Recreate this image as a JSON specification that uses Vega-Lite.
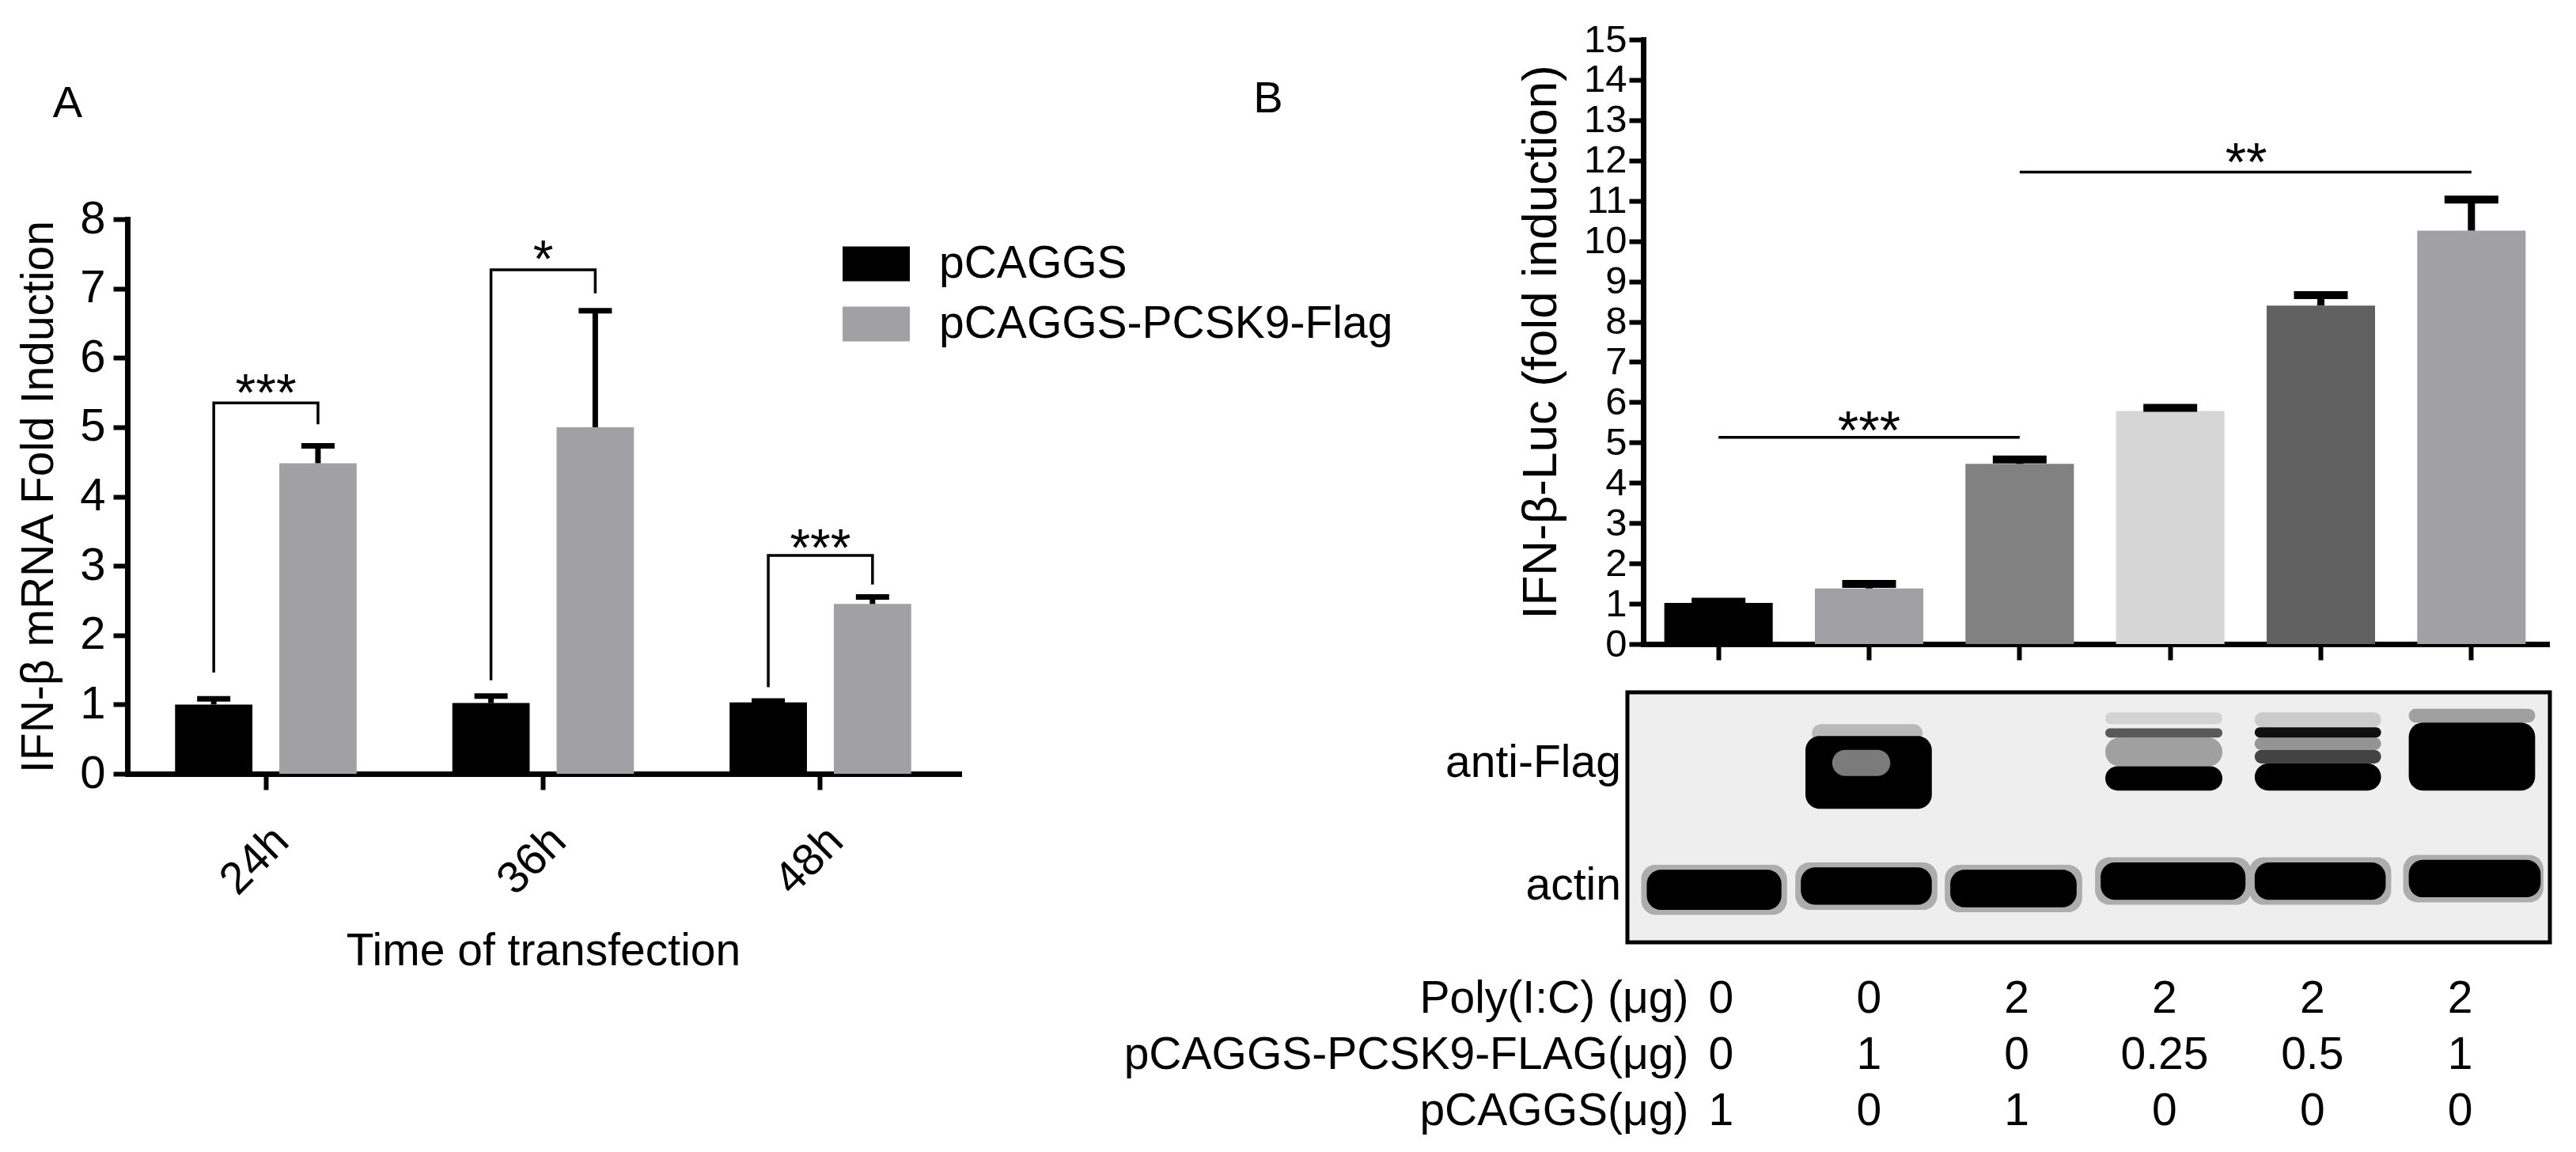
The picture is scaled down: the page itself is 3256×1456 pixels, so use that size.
{
  "$schema": "https://vega.github.io/schema/vega-lite/v6.json",
  "width": 3256,
  "height": 1456,
  "autosize": {"type": "none"},
  "padding": 0,
  "background": "white",
  "config": {
    "font": "Liberation Sans",
    "view": {"stroke": null},
    "axis": {"grid": false, "domainColor": "black", "tickColor": "black", "labelColor": "black", "titleColor": "black", "titleFontWeight": "normal", "labelFont": "Liberation Sans", "titleFont": "Liberation Sans", "domainCap": "square", "labelOverlap": false},
    "text": {"font": "Liberation Sans", "color": "black"},
    "legend": {"labelFont": "Liberation Sans", "labelColor": "black"}
  },
  "datasets": {
    "expA": [
      {"time": "24h", "group": "pCAGGS", "mean": 1.0, "upper": 1.08},
      {"time": "24h", "group": "pCAGGS-PCSK9-Flag", "mean": 4.48, "upper": 4.73},
      {"time": "36h", "group": "pCAGGS", "mean": 1.02, "upper": 1.12},
      {"time": "36h", "group": "pCAGGS-PCSK9-Flag", "mean": 5.0, "upper": 6.68},
      {"time": "48h", "group": "pCAGGS", "mean": 1.03, "upper": 1.05},
      {"time": "48h", "group": "pCAGGS-PCSK9-Flag", "mean": 2.45, "upper": 2.55}
    ],
    "bracketA": [
      {"time": "24h", "group": "pCAGGS", "y": 1.48, "id": "b24", "ord": 1},
      {"time": "24h", "group": "pCAGGS", "y": 5.35, "id": "b24", "ord": 2},
      {"time": "24h", "group": "pCAGGS-PCSK9-Flag", "y": 5.35, "id": "b24", "ord": 3},
      {"time": "24h", "group": "pCAGGS-PCSK9-Flag", "y": 5.06, "id": "b24", "ord": 4},
      {"time": "36h", "group": "pCAGGS", "y": 1.37, "id": "b36", "ord": 1},
      {"time": "36h", "group": "pCAGGS", "y": 7.27, "id": "b36", "ord": 2},
      {"time": "36h", "group": "pCAGGS-PCSK9-Flag", "y": 7.27, "id": "b36", "ord": 3},
      {"time": "36h", "group": "pCAGGS-PCSK9-Flag", "y": 6.95, "id": "b36", "ord": 4},
      {"time": "48h", "group": "pCAGGS", "y": 1.27, "id": "b48", "ord": 1},
      {"time": "48h", "group": "pCAGGS", "y": 3.15, "id": "b48", "ord": 2},
      {"time": "48h", "group": "pCAGGS-PCSK9-Flag", "y": 3.15, "id": "b48", "ord": 3},
      {"time": "48h", "group": "pCAGGS-PCSK9-Flag", "y": 2.75, "id": "b48", "ord": 4}
    ],
    "starsA": [
      {"time": "24h", "y": 5.24, "label": "***"},
      {"time": "36h", "y": 7.17, "label": "*"},
      {"time": "48h", "y": 3.0, "label": "***"}
    ],
    "expB": [
      {"cond": "c1", "mean": 1.02, "upper": 1.05},
      {"cond": "c2", "mean": 1.38, "upper": 1.49},
      {"cond": "c3", "mean": 4.47, "upper": 4.58},
      {"cond": "c4", "mean": 5.78, "upper": 5.86},
      {"cond": "c5", "mean": 8.4, "upper": 8.66},
      {"cond": "c6", "mean": 10.26, "upper": 11.03}
    ],
    "sigB": [
      {"cond": "c1", "y": 5.13, "id": "s1"},
      {"cond": "c3", "y": 5.13, "id": "s1"},
      {"cond": "c3", "y": 11.71, "id": "s2"},
      {"cond": "c6", "y": 11.71, "id": "s2"}
    ],
    "blot": [
      {"lane": 1, "x1": 0.015, "x2": 0.173, "y1": 0.11, "y2": 0.31, "int": 0.25},
      {"lane": 2, "x1": 0.182, "x2": 0.336, "y1": 0.13, "y2": 0.32, "int": 0.25},
      {"lane": 3, "x1": 0.344, "x2": 0.493, "y1": 0.12, "y2": 0.31, "int": 0.25},
      {"lane": 4, "x1": 0.507, "x2": 0.676, "y1": 0.15, "y2": 0.34, "int": 0.25},
      {"lane": 5, "x1": 0.674, "x2": 0.828, "y1": 0.15, "y2": 0.34, "int": 0.25},
      {"lane": 6, "x1": 0.841, "x2": 0.993, "y1": 0.16, "y2": 0.35, "int": 0.25},
      {"lane": 1, "x1": 0.021, "x2": 0.167, "y1": 0.13, "y2": 0.29, "int": 1},
      {"lane": 2, "x1": 0.188, "x2": 0.33, "y1": 0.15, "y2": 0.3, "int": 1},
      {"lane": 3, "x1": 0.35, "x2": 0.487, "y1": 0.14, "y2": 0.29, "int": 1},
      {"lane": 4, "x1": 0.513, "x2": 0.67, "y1": 0.17, "y2": 0.32, "int": 1},
      {"lane": 5, "x1": 0.68, "x2": 0.822, "y1": 0.17, "y2": 0.32, "int": 1},
      {"lane": 6, "x1": 0.847, "x2": 0.99, "y1": 0.18, "y2": 0.33, "int": 1},
      {"lane": 2, "x1": 0.2, "x2": 0.32, "y1": 0.8, "y2": 0.873, "int": 0.2},
      {"lane": 2, "x1": 0.193, "x2": 0.33, "y1": 0.534, "y2": 0.825, "int": 1},
      {"lane": 2, "x1": 0.222, "x2": 0.285, "y1": 0.665, "y2": 0.77, "int": 0.45},
      {"lane": 4, "x1": 0.518, "x2": 0.645, "y1": 0.873, "y2": 0.92, "int": 0.1},
      {"lane": 4, "x1": 0.518, "x2": 0.645, "y1": 0.704, "y2": 0.819, "int": 0.3},
      {"lane": 4, "x1": 0.518, "x2": 0.645, "y1": 0.819, "y2": 0.856, "int": 0.6},
      {"lane": 4, "x1": 0.518, "x2": 0.645, "y1": 0.607, "y2": 0.704, "int": 1},
      {"lane": 5, "x1": 0.68, "x2": 0.817, "y1": 0.86, "y2": 0.92, "int": 0.13},
      {"lane": 5, "x1": 0.68, "x2": 0.817, "y1": 0.77, "y2": 0.819, "int": 0.35},
      {"lane": 5, "x1": 0.68, "x2": 0.817, "y1": 0.819, "y2": 0.86, "int": 0.95},
      {"lane": 5, "x1": 0.68, "x2": 0.817, "y1": 0.715, "y2": 0.77, "int": 0.7},
      {"lane": 5, "x1": 0.68, "x2": 0.817, "y1": 0.607, "y2": 0.715, "int": 1},
      {"lane": 6, "x1": 0.847, "x2": 0.984, "y1": 0.879, "y2": 0.934, "int": 0.3},
      {"lane": 6, "x1": 0.847, "x2": 0.984, "y1": 0.607, "y2": 0.879, "int": 1}
    ],
    "blotLabels": [
      {"label": "anti-Flag", "x": -0.007, "y": 0.715},
      {"label": "actin", "x": -0.007, "y": 0.225}
    ],
    "table": [
      {"row": "Poly(I:C) (μg)", "cond": "c1", "val": "0"},
      {"row": "Poly(I:C) (μg)", "cond": "c2", "val": "0"},
      {"row": "Poly(I:C) (μg)", "cond": "c3", "val": "2"},
      {"row": "Poly(I:C) (μg)", "cond": "c4", "val": "2"},
      {"row": "Poly(I:C) (μg)", "cond": "c5", "val": "2"},
      {"row": "Poly(I:C) (μg)", "cond": "c6", "val": "2"},
      {"row": "pCAGGS-PCSK9-FLAG(μg)", "cond": "c1", "val": "0"},
      {"row": "pCAGGS-PCSK9-FLAG(μg)", "cond": "c2", "val": "1"},
      {"row": "pCAGGS-PCSK9-FLAG(μg)", "cond": "c3", "val": "0"},
      {"row": "pCAGGS-PCSK9-FLAG(μg)", "cond": "c4", "val": "0.25"},
      {"row": "pCAGGS-PCSK9-FLAG(μg)", "cond": "c5", "val": "0.5"},
      {"row": "pCAGGS-PCSK9-FLAG(μg)", "cond": "c6", "val": "1"},
      {"row": "pCAGGS(μg)", "cond": "c1", "val": "1"},
      {"row": "pCAGGS(μg)", "cond": "c2", "val": "0"},
      {"row": "pCAGGS(μg)", "cond": "c3", "val": "1"},
      {"row": "pCAGGS(μg)", "cond": "c4", "val": "0"},
      {"row": "pCAGGS(μg)", "cond": "c5", "val": "0"},
      {"row": "pCAGGS(μg)", "cond": "c6", "val": "0"}
    ],
    "panels": [
      {"label": "A", "x": -0.072, "y": 9.67},
      {"label": "B", "x": 1.372, "y": 9.74}
    ]
  },
  "layer": [
    {
      "data": {"name": "expA"},
      "layer": [
        {
          "mark": {"type": "bar"},
          "encoding": {
            "x": {"field": "time", "type": "nominal", "scale": {"type": "band", "domain": ["24h", "36h", "48h"], "range": [161, 1212], "paddingInner": 0.345, "paddingOuter": 0.172},
              "axis": {"orient": "bottom", "offset": -478, "labelAngle": -45, "labelFontSize": 57, "labelPadding": 36, "tickSize": 20, "tickWidth": 6, "domainWidth": 7, "title": "Time of transfection", "titleFontSize": 57, "titlePadding": 34}},
            "xOffset": {"field": "group", "type": "nominal", "scale": {"domain": ["pCAGGS", "pCAGGS-PCSK9-Flag"], "paddingInner": 0.258, "paddingOuter": 0}},
            "y": {"field": "mean", "type": "quantitative", "scale": {"domain": [0, 8], "range": [978, 277], "nice": false, "zero": true},
              "axis": {"orient": "left", "offset": -161, "values": [0, 1, 2, 3, 4, 5, 6, 7, 8], "format": "d", "labelFontSize": 58, "labelPadding": 10, "tickSize": 18, "tickWidth": 6, "domainWidth": 7, "title": "IFN-β mRNA Fold Induction", "titleFontSize": 57, "titlePadding": 22}},
            "color": {"field": "group", "type": "nominal", "scale": {"domain": ["pCAGGS", "pCAGGS-PCSK9-Flag"], "range": ["#000000", "#a1a1a5"]},
              "legend": {"orient": "none", "legendX": 1079, "legendY": 305, "title": null, "symbolType": "M-1.5,-0.78H1.5V0.78H-1.5Z", "symbolSize": 3211, "labelFontSize": 57, "labelOffset": 51, "rowPadding": 18, "symbolStrokeWidth": 0, "labelLimit": 0, "padding": 0, "symbolOpacity": 1}}
          }
        },
        {
          "mark": {"type": "rule", "strokeWidth": 7, "color": "black"},
          "encoding": {
            "x": {"field": "time", "type": "nominal"},
            "xOffset": {"field": "group", "type": "nominal"},
            "y": {"field": "mean", "type": "quantitative"},
            "y2": {"field": "upper"}
          }
        },
        {
          "mark": {"type": "tick", "size": 42, "thickness": 7, "color": "black", "opacity": 1},
          "encoding": {
            "x": {"field": "time", "type": "nominal"},
            "xOffset": {"field": "group", "type": "nominal"},
            "y": {"field": "upper", "type": "quantitative"}
          }
        },
        {
          "data": {"name": "bracketA"},
          "mark": {"type": "line", "strokeWidth": 3.5, "color": "black", "strokeCap": "square"},
          "encoding": {
            "x": {"field": "time", "type": "nominal"},
            "xOffset": {"field": "group", "type": "nominal"},
            "y": {"field": "y", "type": "quantitative"},
            "detail": {"field": "id"},
            "order": {"field": "ord"}
          }
        },
        {
          "data": {"name": "starsA"},
          "mark": {"type": "text", "fontSize": 66, "baseline": "alphabetic", "align": "center"},
          "encoding": {
            "x": {"field": "time", "type": "nominal"},
            "y": {"field": "y", "type": "quantitative"},
            "text": {"field": "label"}
          }
        }
      ]
    },
    {
      "data": {"name": "expB"},
      "layer": [
        {
          "mark": {"type": "bar"},
          "encoding": {
            "x": {"field": "cond", "type": "nominal", "scale": {"type": "band", "domain": ["c1", "c2", "c3", "c4", "c5", "c6"], "range": [2077, 3219], "paddingInner": 0.28, "paddingOuter": 0.14},
              "axis": {"orient": "bottom", "offset": -642, "labels": false, "tickSize": 20, "tickWidth": 6, "domainWidth": 7, "title": null}},
            "y": {"field": "mean", "type": "quantitative", "scale": {"domain": [0, 15], "range": [814, 50], "nice": false, "zero": true},
              "axis": {"orient": "left", "offset": -2077, "values": [0, 1, 2, 3, 4, 5, 6, 7, 8, 9, 10, 11, 12, 13, 14, 15], "format": "d", "labelFontSize": 49, "labelPadding": 3, "tickSize": 18, "tickWidth": 6, "domainWidth": 7, "title": "IFN-β-Luc (fold induction)", "titleFontSize": 62, "titlePadding": 22}},
            "color": {"field": "cond", "type": "nominal", "scale": {"domain": ["c1", "c2", "c3", "c4", "c5", "c6"], "range": ["#000000", "#a1a1a5", "#818181", "#d6d6d6", "#616161", "#a1a1a5"]}, "legend": null}
          }
        },
        {
          "mark": {"type": "rule", "strokeWidth": 9, "color": "black"},
          "encoding": {
            "x": {"field": "cond", "type": "nominal"},
            "y": {"field": "mean", "type": "quantitative"},
            "y2": {"field": "upper"}
          }
        },
        {
          "mark": {"type": "tick", "size": 68, "thickness": 10, "color": "black", "opacity": 1},
          "encoding": {
            "x": {"field": "cond", "type": "nominal"},
            "y": {"field": "upper", "type": "quantitative"}
          }
        },
        {
          "data": {"name": "sigB"},
          "mark": {"type": "line", "strokeWidth": 3.5, "color": "black"},
          "encoding": {
            "x": {"field": "cond", "type": "nominal"},
            "y": {"field": "y", "type": "quantitative"},
            "detail": {"field": "id"}
          }
        },
        {
          "data": {"values": [{"cond": "c2", "y": 4.85, "label": "***"}]},
          "mark": {"type": "text", "fontSize": 68, "baseline": "alphabetic", "align": "center"},
          "encoding": {
            "x": {"field": "cond", "type": "nominal"},
            "y": {"field": "y", "type": "quantitative"},
            "text": {"field": "label"}
          }
        },
        {
          "data": {"values": [{"cond": "c4", "y": 11.5, "label": "**"}]},
          "mark": {"type": "text", "fontSize": 68, "baseline": "alphabetic", "align": "center"},
          "encoding": {
            "x": {"field": "cond", "type": "nominal", "bandPosition": 1.2},
            "y": {"field": "y", "type": "quantitative"},
            "text": {"field": "label"}
          }
        }
      ]
    },
    {
      "layer": [
        {
          "data": {"values": [{"x1": 0, "x2": 1, "y1": 0, "y2": 1}]},
          "mark": {"type": "rect", "fill": "#eeeeee", "stroke": "black", "strokeWidth": 5},
          "encoding": {
            "x": {"field": "x1", "type": "quantitative", "scale": {"domain": [0, 1], "range": [2057, 3223], "nice": false, "zero": false}, "axis": null},
            "x2": {"field": "x2"},
            "y": {"field": "y1", "type": "quantitative", "scale": {"domain": [0, 1], "range": [1191, 875], "nice": false, "zero": false}, "axis": null},
            "y2": {"field": "y2"}
          }
        },
        {
          "data": {"name": "blot"},
          "mark": {"type": "rect", "cornerRadius": 18},
          "encoding": {
            "x": {"field": "x1", "type": "quantitative"},
            "x2": {"field": "x2"},
            "y": {"field": "y1", "type": "quantitative"},
            "y2": {"field": "y2"},
            "color": {"field": "int", "type": "quantitative", "scale": {"domain": [0, 1], "range": ["#eeeeee", "#000000"]}, "legend": null}
          }
        },
        {
          "data": {"name": "blotLabels"},
          "mark": {"type": "text", "fontSize": 57, "align": "right", "baseline": "middle"},
          "encoding": {
            "x": {"field": "x", "type": "quantitative"},
            "y": {"field": "y", "type": "quantitative"},
            "text": {"field": "label"}
          }
        }
      ]
    },
    {
      "data": {"name": "table"},
      "mark": {"type": "text", "fontSize": 57, "align": "center", "baseline": "middle"},
      "encoding": {
        "x": {"field": "cond", "type": "nominal", "scale": {"type": "band", "domain": ["c1", "c2", "c3", "c4", "c5", "c6"], "range": [2082, 3203], "paddingInner": 0, "paddingOuter": 0}, "axis": null},
        "y": {"field": "row", "type": "nominal", "scale": {"type": "band", "domain": ["Poly(I:C) (μg)", "pCAGGS-PCSK9-FLAG(μg)", "pCAGGS(μg)"], "range": [1228, 1440], "paddingInner": 0, "paddingOuter": 0},
          "axis": {"orient": "left", "offset": -2138, "domain": false, "ticks": false, "labelFontSize": 57, "labelPadding": 4, "labelLimit": 2000, "title": null}},
        "text": {"field": "val"}
      }
    },
    {
      "data": {"name": "panels"},
      "mark": {"type": "text", "fontSize": 56, "align": "center", "baseline": "middle"},
      "encoding": {
        "x": {"field": "x", "type": "quantitative", "scale": {"domain": [0, 1], "range": [161, 1212], "nice": false, "zero": false}, "axis": null},
        "y": {"field": "y", "type": "quantitative", "scale": {"domain": [0, 8], "range": [978, 277], "nice": false, "zero": false}, "axis": null},
        "text": {"field": "label"}
      }
    }
  ],
  "resolve": {
    "scale": {"x": "independent", "y": "independent", "color": "independent", "xOffset": "independent"},
    "axis": {"x": "independent", "y": "independent"},
    "legend": {"color": "independent"}
  }
}
